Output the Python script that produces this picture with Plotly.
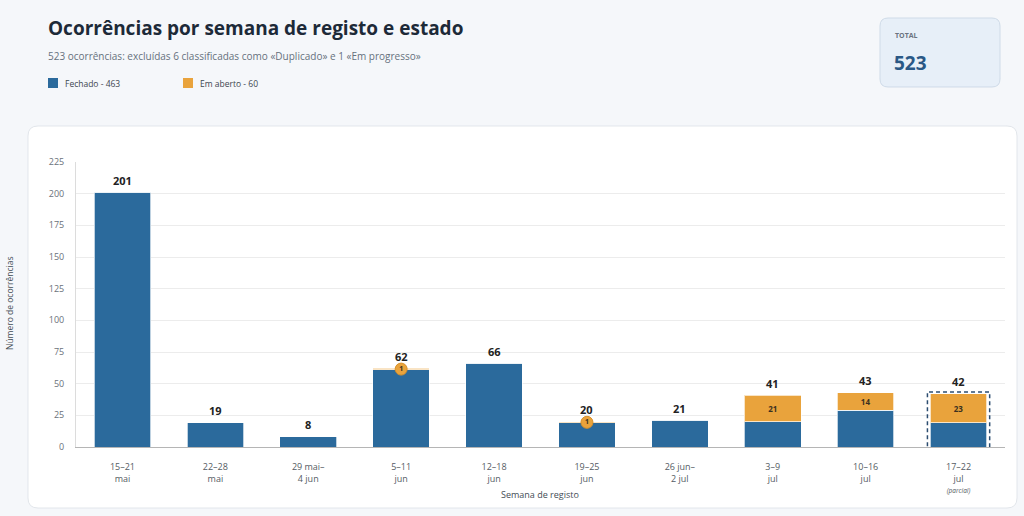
import plotly.graph_objects as go

# semanas de registo e contagens por estado
semanas = ["15–21<br>mai", "22–28<br>mai", "29 mai–<br>4 jun", "5–11<br>jun", "12–18<br>jun",
           "19–25<br>jun", "26 jun–<br>2 jul", "3–9<br>jul", "10–16<br>jul",
           "17–22<br>jul<br><span style='font-size:6.5px'><i>(parcial)</i></span>"]
fechado = [201, 19, 8, 61, 66, 19, 21, 20, 29, 19]
em_aberto = [0, 0, 0, 1, 0, 1, 0, 21, 14, 23]
excluidos_duplicado = 6
excluidos_progresso = 1

totais = [f + a for f, a in zip(fechado, em_aberto)]
total_geral = sum(totais)

AZUL = "#2b6a9c"
LARANJA = "#e9a33c"

# area do grafico em pixeis
L, R, T, B = 76, 1005, 162, 447


def px_x(p):
    return (p - L) / (R - L)


def px_y(p):
    return (B - p) / (B - T)


def rounded(x0, y0, x1, y1, r):
    pts = [("M", x0 + r, y0), ("L", x1 - r, y0), ("Q", x1, y0, x1, y0 + r),
           ("L", x1, y1 - r), ("Q", x1, y1, x1 - r, y1), ("L", x0 + r, y1),
           ("Q", x0, y1, x0, y1 - r), ("L", x0, y0 + r), ("Q", x0, y0, x0 + r, y0)]
    out = ""
    for p in pts:
        cmd, coords = p[0], p[1:]
        xy = []
        for i in range(0, len(coords), 2):
            xy.append(f"{px_x(coords[i]):.5f},{px_y(coords[i + 1]):.5f}")
        out += cmd + " " + " ".join(xy) + " "
    return out + "Z"


fig = go.Figure()

fig.add_trace(go.Bar(
    x=semanas, y=fechado, name="Fechado",
    marker=dict(color=AZUL, line=dict(color="rgba(255,255,255,0.7)", width=1)),
    hoverinfo="skip",
))

fig.add_trace(go.Bar(
    x=semanas, y=em_aberto, name="Em aberto",
    marker=dict(color=LARANJA, line=dict(color="rgba(255,255,255,0.7)", width=1)),
    text=[str(v) if v >= 5 else "" for v in em_aberto],
    textposition="inside", insidetextanchor="middle",
    textfont=dict(size=8, color="#3a3020", family="Open Sans", weight="bold"),
    hoverinfo="skip",
))

# badges para segmentos pequenos
peq = [i for i, v in enumerate(em_aberto) if 0 < v < 5]
fig.add_trace(go.Scatter(
    x=[semanas[i] for i in peq],
    y=[fechado[i] + em_aberto[i] / 2 for i in peq],
    mode="markers+text",
    marker=dict(symbol="circle", size=12, color=LARANJA, line=dict(color="#d8912a", width=1)),
    text=[str(em_aberto[i]) for i in peq],
    textposition="middle center",
    textfont=dict(size=7, color="#3a3020", family="Open Sans", weight="bold"),
    showlegend=False, hoverinfo="skip",
))

shapes = [
    # cartao branco
    dict(type="path", xref="paper", yref="paper", layer="below",
         path=rounded(28, 126, 1017, 508, 10),
         fillcolor="white", line=dict(color="#e2e6eb", width=1)),
    # caixa total
    dict(type="path", xref="paper", yref="paper", layer="below",
         path=rounded(880, 18, 1000, 87, 8),
         fillcolor="#e7eff8", line=dict(color="#cfdbe8", width=1)),
    # semana parcial
    dict(type="rect", xref="x", yref="y",
         x0=len(semanas) - 1 - 0.335, x1=len(semanas) - 1 + 0.335,
         y0=-0.8, y1=totais[-1] + 1.5,
         line=dict(color="#2c4d70", width=1.5, dash="4px,3px")),
]

annotations = [
    dict(text="<b>Ocorrências por semana de registo e estado</b>", xref="paper", yref="paper",
         x=px_x(46), y=px_y(28), xanchor="left", yanchor="middle", showarrow=False,
         font=dict(size=19, color="#1d2a38", family="Open Sans")),
    dict(text=f"{total_geral} ocorrências: excluídas {excluidos_duplicado} classificadas como «Duplicado» "
              f"e {excluidos_progresso} «Em progresso»",
         xref="paper", yref="paper", x=px_x(46), y=px_y(56), xanchor="left", yanchor="middle",
         showarrow=False, font=dict(size=10, color="#66717d", family="Open Sans")),
    dict(text="<b>TOTAL</b>", xref="paper", yref="paper", x=px_x(893), y=px_y(36),
         xanchor="left", yanchor="middle", showarrow=False,
         font=dict(size=7, color="#6b7480", family="Open Sans")),
    dict(text=f"<b>{total_geral}</b>", xref="paper", yref="paper", x=px_x(892), y=px_y(63),
         xanchor="left", yanchor="middle", showarrow=False,
         font=dict(size=19, color="#2a5886", family="Open Sans")),
    dict(text="Número de ocorrências", xref="paper", yref="paper", x=px_x(9), y=px_y(304),
         xanchor="center", yanchor="middle", textangle=-90, showarrow=False,
         font=dict(size=8.5, color="#444c55", family="Open Sans")),
    dict(text="Semana de registo", xref="paper", yref="paper", x=px_x(540), y=px_y(494),
         xanchor="center", yanchor="middle", showarrow=False,
         font=dict(size=9, color="#444c55", family="Open Sans")),
]

# totais por cima das barras
for s, t in zip(semanas, totais):
    annotations.append(dict(text=f"<b>{t}</b>", x=s, y=t, xref="x", yref="y",
                            yanchor="middle", yshift=12, showarrow=False,
                            font=dict(size=11, color="#222222", family="Open Sans")))

# legenda manual
leg = [("Fechado", fechado, AZUL, 48), ("Em aberto", em_aberto, LARANJA, 183)]
for nome, vals, cor, x0 in leg:
    shapes.append(dict(type="rect", xref="paper", yref="paper",
                       x0=px_x(x0), x1=px_x(x0 + 10), y0=px_y(88), y1=px_y(78),
                       fillcolor=cor, line=dict(width=0)))
    annotations.append(dict(text=f"{nome} - {sum(vals)}", xref="paper", yref="paper",
                            x=px_x(x0 + 15), y=px_y(83), xanchor="left", yanchor="middle",
                            showarrow=False, font=dict(size=8.5, color="#3d4650", family="Open Sans")))

fig.update_layout(
    width=1024, height=516,
    margin=dict(l=L, r=1024 - R, t=T, b=516 - B),
    paper_bgcolor="#f5f7fa", plot_bgcolor="white",
    barmode="stack", bargap=0.39,
    font=dict(family="Open Sans", color="#555555"),
    showlegend=False,
    shapes=shapes, annotations=annotations,
    xaxis=dict(type="category", showgrid=False, showline=True, linecolor="#b5b5b5", linewidth=1,
               ticks="", tickfont=dict(size=9, color="#555c63"), ticklabelstandoff=11,
               fixedrange=True),
    yaxis=dict(range=[0, 225], dtick=25, showgrid=True, gridcolor="#ececec", gridwidth=1,
               zeroline=False, showline=True, linecolor="#dcdcdc", linewidth=1,
               ticks="", tickfont=dict(size=9, color="#6a727a"), ticklabelstandoff=9,
               fixedrange=True),
)

fig.write_html("out.html", config={"displayModeBar": False},
               post_script="document.body.style.margin='0';"
                           "document.body.style.background='#f5f7fa';")
